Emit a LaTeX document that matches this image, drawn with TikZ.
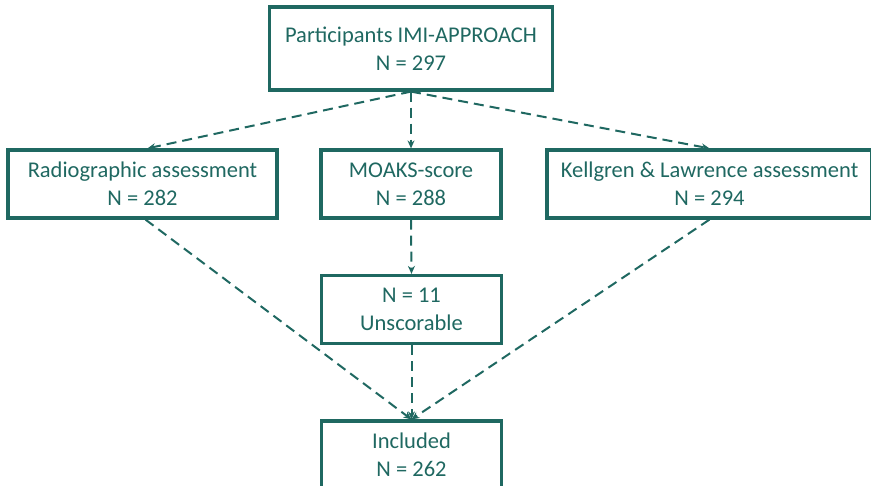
\documentclass[tikz,border=0pt]{standalone}
\usepackage{fontspec}
\setmainfont{Carlito}
\usetikzlibrary{arrows.meta}
\definecolor{flowteal}{RGB}{31,104,97}
\tikzset{
	flowbox/.style={draw=flowteal, line width=3.2pt, text=flowteal, align=center, inner sep=0pt,
		font=\fontsize{22.5}{28}\selectfont},
	flowarrow/.style={draw=flowteal, line width=2pt, dash pattern=on 10pt off 6pt,
		-{Stealth[length=8pt,width=7pt]}}
}

\begin{document}
\begin{tikzpicture}[x=1pt, y=-1pt]
		%%%%% START %%%%%
		\useasboundingbox (0, 0) rectangle (871, 486);
		
		\node[flowbox, minimum width=283pt, minimum height=83pt] (participants) at (411, 48.5) {Participants IMI-APPROACH\\N = 297};
		
		\node[flowbox, minimum width=269pt, minimum height=68pt] (radio) at (142.5, 184) {Radiographic assessment\\N = 282};
		\node[flowbox, minimum width=180pt, minimum height=68pt] (moaks) at (411, 184) {MOAKS-score\\N = 288};
		\node[flowbox, minimum width=325pt, minimum height=68pt] (kl) at (709.5, 184) {Kellgren \& Lawrence assessment\\N = 294};
		
		\node[flowbox, minimum width=180pt, minimum height=68pt] (unscorable) at (411.5, 309.5) {N = 11\\Unscorable};
		
		\node[flowbox, minimum width=180pt, minimum height=68pt] (included) at (411.5, 455) {Included\\N = 262};
		
		\draw[flowarrow] (participants.south) -- ([xshift=5pt]radio.north);
		\draw[flowarrow] (participants.south) -- (moaks.north);
		\draw[flowarrow] (participants.south) -- (kl.north);
		
		\draw[flowarrow] (moaks.south) -- (unscorable.north);
		\draw[flowarrow] ([xshift=3pt]radio.south) -- (included.north);
		\draw[flowarrow] (unscorable.south) -- (included.north);
		\draw[flowarrow] (kl.south) -- (included.north);
		
		%%%%% END %%%%%
\end{tikzpicture}
\end{document}
